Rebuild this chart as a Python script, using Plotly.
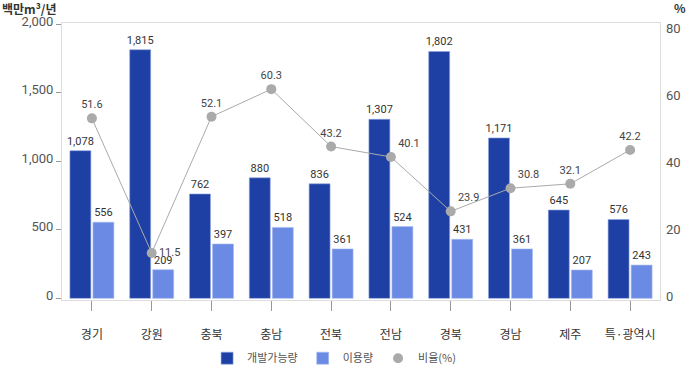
import plotly.graph_objects as go

categories = ["경기", "강원", "충북", "충남", "전북", "전남", "경북", "경남", "제주", "특·광역시"]
dev_potential = [1078, 1815, 762, 880, 836, 1307, 1802, 1171, 645, 576]
usage = [556, 209, 397, 518, 361, 524, 431, 361, 207, 243]
ratio = [51.6, 11.5, 52.1, 60.3, 43.2, 40.1, 23.9, 30.8, 32.1, 42.2]
left_ticks = [0, 500, 1000, 1500, 2000]
right_ticks = [0, 20, 40, 60, 80]

FONT = "Roboto, 'Noto Sans CJK KR'"
KFONT = "'Noto Sans CJK KR'"
DARK = "#1e40a4"
LIGHT = "#6a8ae4"
GRAY = "#aaaaaa"

fig = go.Figure()
fig.add_trace(go.Bar(
    x=categories, y=dev_potential, name="개발가능량",
    marker=dict(color=DARK, line=dict(color="#8fa4e0", width=0.6)),
    text=[f"{v:,}" for v in dev_potential], textposition="outside",
    textfont=dict(size=11, color="#333333", family=FONT),
    constraintext="none", cliponaxis=False,
))
fig.add_trace(go.Bar(
    x=categories, y=usage, name="이용량",
    marker=dict(color=LIGHT, line=dict(color="#a9bcf0", width=0.6)),
    text=[f"{v:,}" for v in usage], textposition="outside",
    textfont=dict(size=11, color="#333333", family=FONT),
    constraintext="none", cliponaxis=False,
))
positions = ["top center"] * len(ratio)
positions[1] = "middle right"
positions[5] = "top right"
positions[6] = "top right"
positions[7] = "top right"
fig.add_trace(go.Scatter(
    x=categories, y=ratio, name="비율(%)", yaxis="y2",
    mode="lines+markers+text", showlegend=False,
    line=dict(color=GRAY, width=1),
    marker=dict(color=GRAY, size=10),
    text=[f"{v}" for v in ratio], textposition=positions,
    textfont=dict(size=11, color="#444444", family=FONT),
    cliponaxis=False,
))
# legend-only entry for the ratio series (dot only, as in the reference legend)
fig.add_trace(go.Scatter(
    x=[None], y=[None], name="비율(%)", yaxis="y2", mode="markers",
    marker=dict(color=GRAY, size=10), showlegend=True,
))

fig.update_layout(
    width=686, height=365,
    margin=dict(l=62, r=26, t=23, b=65, autoexpand=False),
    paper_bgcolor="white", plot_bgcolor="white",
    font=dict(family=FONT, color="#444444"),
    barmode="group", bargap=0.23, bargroupgap=0.09,
    showlegend=True,
    legend=dict(orientation="h", x=0.455, xanchor="center", y=-0.21, yanchor="middle",
                font=dict(size=11, color="#555555", family=KFONT), itemwidth=30,
                traceorder="normal"),
    xaxis=dict(
        range=[-0.5, len(categories) - 0.5],
        showline=True, linecolor="#dddddd", linewidth=1, mirror=True,
        ticks="outside", ticklen=10, tickcolor="#999999",
        tickfont=dict(size=12, color="#333333", family=KFONT), ticklabelstandoff=14,
        showgrid=False, automargin=False,
    ),
    yaxis=dict(
        range=[-12, 2010], tickvals=left_ticks, tickformat=",",
        showline=True, linecolor="#dddddd", linewidth=1, mirror=True,
        ticks="outside", ticklen=5, tickcolor="#999999",
        tickfont=dict(size=13, color="#555555"), ticklabelshift=-3,
        showgrid=False, zeroline=False, automargin=False,
    ),
    yaxis2=dict(
        range=[-2.5, 80], tickvals=right_ticks, overlaying="y", side="right",
        showline=False, showgrid=False, zeroline=False,
        tickfont=dict(size=13, color="#555555"), ticklabelstandoff=5,
        ticklabelshift=5, automargin=False,
    ),
    annotations=[
        dict(text="<b>백만m³/년</b>", x=0, y=1, xref="paper", yref="paper",
             xanchor="left", yanchor="middle", showarrow=False,
             xshift=-62, yshift=15, font=dict(size=12, color="#333333", family=KFONT)),
        dict(text="<b>%</b>", x=1, y=1, xref="paper", yref="paper",
             xanchor="left", yanchor="middle", showarrow=False,
             xshift=12, yshift=16, font=dict(size=12, color="#333333", family=KFONT)),
    ],
)

fig.write_html("out.html", config={"displayModeBar": False},
               post_script="document.body.style.margin='0px';")
